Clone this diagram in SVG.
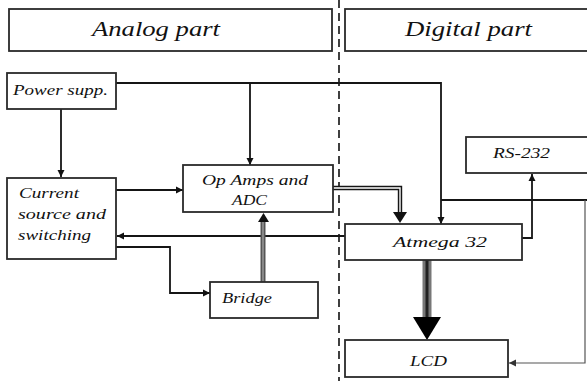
<svg xmlns="http://www.w3.org/2000/svg" width="587" height="381" viewBox="0 0 587 381">
  <style>
    .box { fill: #fff; stroke: #2a2a2a; stroke-width: 1.8; }
    .lbl { font-family: "Liberation Serif", "DejaVu Serif", serif; font-style: italic; fill: #111; }
    .hdr { font-size: 21px; }
    .nd { font-size: 14.5px; }
    .wire { fill: none; stroke: #151515; stroke-width: 1.8; }
    .thin { fill: none; stroke: #555; stroke-width: 1.2; }
    .divider { stroke: #111; stroke-width: 1.6; stroke-dasharray: 8 5; }
  </style>
  <defs>
    <marker id="arr" viewBox="0 0 10 10" refX="10" refY="5" markerWidth="4" markerHeight="4" orient="auto" markerUnits="strokeWidth">
      <path d="M0,0 L10,5 L0,10 z" fill="#111"/>
    </marker>
    <marker id="arrThin" viewBox="0 0 10 10" refX="10" refY="5" markerWidth="6" markerHeight="6" orient="auto" markerUnits="strokeWidth">
      <path d="M0,0 L10,5 L0,10 z" fill="#333"/>
    </marker>
  </defs>

  <rect width="587" height="381" fill="#fff"/>

  <!-- section headers -->
  <g id="analog-header">
    <rect class="box" x="9" y="9" width="323" height="42"/>
    <text class="lbl hdr" x="92" y="36" textLength="128" lengthAdjust="spacingAndGlyphs">Analog part</text>
  </g>
  <g id="digital-header">
    <rect class="box" x="345" y="9" width="250" height="42"/>
    <text class="lbl hdr" x="405" y="36" textLength="127" lengthAdjust="spacingAndGlyphs">Digital part</text>
  </g>

  <!-- analog / digital boundary -->
  <line class="divider" x1="339" y1="0" x2="339" y2="381"/>

  <!-- connectors -->
  <g id="connectors">
    <!-- power rail -->
    <path class="wire" d="M116,83 H441 V224" marker-end="url(#arr)"/>
    <path class="wire" d="M61,109 V177" marker-end="url(#arr)"/>
    <path class="wire" d="M250,83 V165" marker-end="url(#arr)"/>
    <path class="wire" d="M441,200 H587"/>
    <path class="thin" d="M585,200 V363 H509" marker-end="url(#arrThin)"/>

    <!-- current source to op amps -->
    <path class="wire" d="M116,190 H183" marker-end="url(#arr)"/>

    <!-- op amps to atmega (double line) -->
    <path fill="none" stroke="#151515" stroke-width="4.4" d="M333,188 H400 V213"/>
    <path fill="none" stroke="#fff" stroke-width="1.4" d="M333,188 H400 V213"/>
    <path d="M393,212 L407,212 L400,223 z" fill="#111"/>

    <!-- atmega control back to current source -->
    <path class="wire" d="M345,236 H117" marker-end="url(#arr)"/>

    <!-- atmega to RS-232 -->
    <path class="wire" d="M522,238 H532 V174" marker-end="url(#arr)"/>

    <!-- current source to bridge -->
    <path class="wire" d="M116,247 H170 V293 H210" marker-end="url(#arr)"/>

    <!-- bridge to op amps (double gray line) -->
    <path fill="none" stroke="#555" stroke-width="5" d="M263,282 V221"/>
    <path fill="none" stroke="#aaa" stroke-width="1.2" d="M263,282 V221"/>
    <path d="M258,222 L269,222 L263.5,213 z" fill="#111"/>

    <!-- atmega to LCD (bus) -->
    <path fill="none" stroke="#777" stroke-width="9" d="M427,260 V318"/>
    <path fill="none" stroke="#222" stroke-width="3" d="M427,260 V318"/>
    <path d="M413,317 L441,317 L427,340 z" fill="#000"/>
  </g>

  <!-- nodes -->
  <g id="power-supply">
    <rect class="box" x="7" y="73" width="109" height="36"/>
    <text class="lbl nd" x="13" y="95" textLength="95" lengthAdjust="spacingAndGlyphs">Power supp.</text>
  </g>
  <g id="current-source">
    <rect class="box" x="7" y="178" width="109" height="81"/>
    <text class="lbl nd" x="19" y="198" textLength="60" lengthAdjust="spacingAndGlyphs">Current</text>
    <text class="lbl nd" x="18" y="219" textLength="88" lengthAdjust="spacingAndGlyphs">source and</text>
    <text class="lbl nd" x="18" y="240" textLength="73" lengthAdjust="spacingAndGlyphs">switching</text>
  </g>
  <g id="op-amps-adc">
    <rect class="box" x="183" y="165" width="150" height="47"/>
    <text class="lbl nd" x="202" y="185" textLength="106" lengthAdjust="spacingAndGlyphs">Op Amps and</text>
    <text class="lbl nd" x="232" y="205" textLength="35" lengthAdjust="spacingAndGlyphs">ADC</text>
  </g>
  <g id="bridge">
    <rect class="box" x="210" y="282" width="108" height="36"/>
    <text class="lbl nd" x="222" y="303" textLength="50" lengthAdjust="spacingAndGlyphs">Bridge</text>
  </g>
  <g id="rs232">
    <rect class="box" x="466" y="137" width="130" height="36"/>
    <text class="lbl nd" x="493" y="158" textLength="57" lengthAdjust="spacingAndGlyphs">RS-232</text>
  </g>
  <g id="atmega32">
    <rect class="box" x="345" y="224" width="177" height="36"/>
    <text class="lbl nd" x="393" y="247" textLength="94" lengthAdjust="spacingAndGlyphs">Atmega 32</text>
  </g>
  <g id="lcd">
    <rect class="box" x="345" y="340" width="163" height="37"/>
    <text class="lbl nd" x="410" y="366" textLength="37" lengthAdjust="spacingAndGlyphs">LCD</text>
  </g>
</svg>
